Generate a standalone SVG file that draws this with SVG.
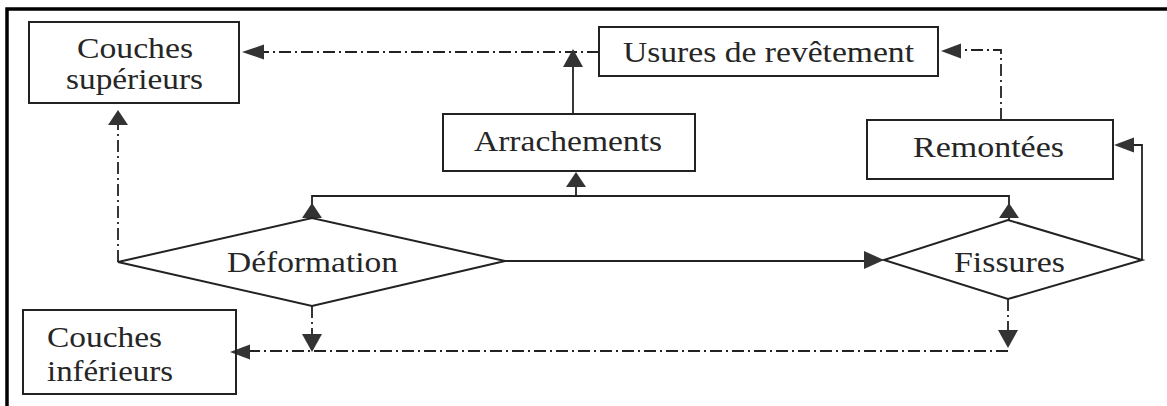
<svg xmlns="http://www.w3.org/2000/svg" xmlns:xlink="http://www.w3.org/1999/xlink" width="1167" height="406" viewBox="0 0 1167 406">
<style>
.frame{fill:none;stroke:#000;stroke-width:3.5}
.box{fill:none;stroke:#222;stroke-width:2}
.t{font-family:"Liberation Serif","Times New Roman",serif;font-size:30px;fill:#262626}
.solid{fill:none;stroke:#222;stroke-width:1.8}
.dd{fill:none;stroke:#222;stroke-width:1.8;stroke-dasharray:12 4 2 4}
.ah{fill:#333}
</style>
<defs>
<path id="ahh" d="M0,0 L-20,-7.5 L-20,7.5 Z"/>
<path id="ahv" d="M0,0 L-10,15 L10,15 Z"/>
</defs>
<rect x="0" y="0" width="1167" height="406" fill="#fff"/>
<path class="frame" d="M7,406 V9 H1167"/>

<g id="connectors">
<path class="solid" d="M505,261 H868"/>
<path class="solid" d="M312,218 V196 H1009 V220"/>
<path class="solid" d="M576,196 V186"/>
<path class="solid" d="M573,114 V64"/>
<path class="solid" d="M1142,260 V145 H1130"/>
<path class="dd" d="M118,262 V124"/>
<path class="dd" d="M599,52 H258"/>
<path class="dd" d="M1001,120 V50 H958"/>
<path class="dd" d="M312,306 V338"/>
<path class="dd" d="M1008,299 V334"/>
<path class="dd" d="M1008,351 H248"/>
<g class="ah">
<use xlink:href="#ahv" transform="translate(118,110)"/>
<use xlink:href="#ahv" transform="translate(312,203)"/>
<use xlink:href="#ahv" transform="translate(1009,203)"/>
<use xlink:href="#ahv" transform="translate(576,172)"/>
<use xlink:href="#ahv" transform="translate(573,49) scale(1,1.2)"/>
<use xlink:href="#ahv" transform="translate(312,352) scale(1,-1.2)"/>
<use xlink:href="#ahv" transform="translate(1008,348) scale(1,-1.2)"/>
<use xlink:href="#ahh" transform="translate(230,352) scale(-1,1)"/>
<use xlink:href="#ahh" transform="translate(242,52) scale(-1.1,1)"/>
<use xlink:href="#ahh" transform="translate(941,51) scale(-1,1)"/>
<use xlink:href="#ahh" transform="translate(1114,145) scale(-1,1)"/>
<use xlink:href="#ahh" transform="translate(884,260) scale(1,1.2)"/>
</g>
</g>

<g id="couches-superieurs">
<rect class="box" x="29" y="22" width="210" height="81"/>
<text class="t" x="77" y="58" textLength="116" lengthAdjust="spacingAndGlyphs">Couches</text>
<text class="t" x="66" y="89" textLength="137" lengthAdjust="spacingAndGlyphs">supérieurs</text>
</g>

<g id="usures">
<rect class="box" x="599" y="27" width="339" height="49"/>
<text class="t" x="623" y="62" textLength="291" lengthAdjust="spacingAndGlyphs">Usures de revêtement</text>
</g>

<g id="arrachements">
<rect class="box" x="443" y="114" width="252" height="57"/>
<text class="t" x="474" y="151" textLength="188" lengthAdjust="spacingAndGlyphs">Arrachements</text>
</g>

<g id="remontees">
<rect class="box" x="867" y="120" width="246" height="59"/>
<text class="t" x="913" y="157" textLength="151" lengthAdjust="spacingAndGlyphs">Remontées</text>
</g>

<g id="deformation">
<polygon class="box" points="118,262 312,218 505,261 312,306"/>
<text class="t" x="227" y="272" textLength="171" lengthAdjust="spacingAndGlyphs">Déformation</text>
</g>

<g id="fissures">
<polygon class="box" points="884,260 1008,220 1142,260 1008,299"/>
<text class="t" x="954" y="272" textLength="111" lengthAdjust="spacingAndGlyphs">Fissures</text>
</g>

<g id="couches-inferieurs">
<rect class="box" x="23" y="310" width="213" height="84"/>
<text class="t" x="47" y="347" textLength="115" lengthAdjust="spacingAndGlyphs">Couches</text>
<text class="t" x="47" y="381" textLength="126" lengthAdjust="spacingAndGlyphs">inférieurs</text>
</g>
</svg>
